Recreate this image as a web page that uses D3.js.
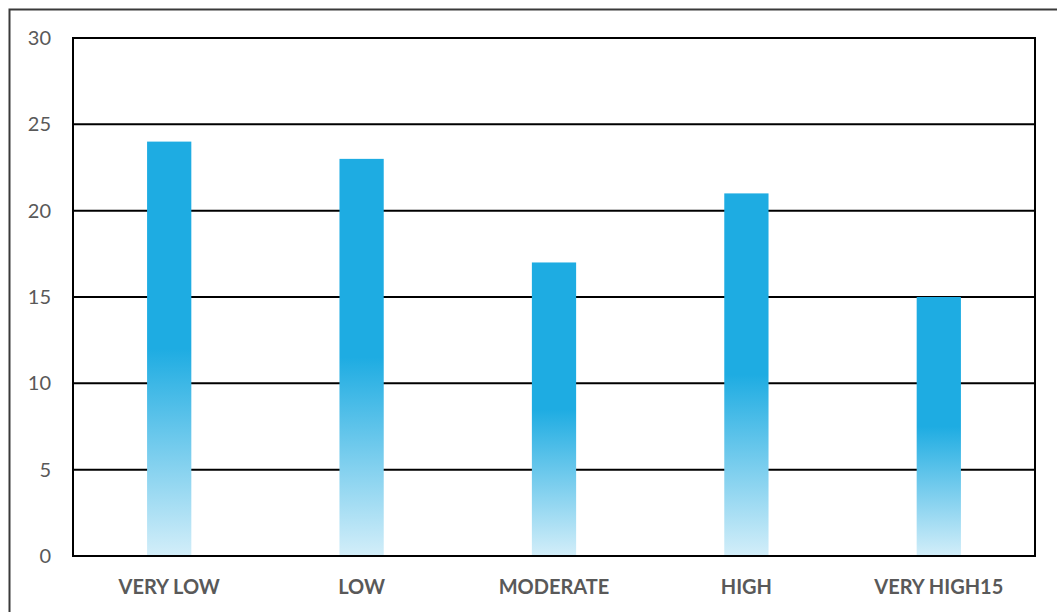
<!DOCTYPE html>
<html>
<head>
<meta charset="utf-8">
<script src="https://cdn.jsdelivr.net/npm/d3@7"></script>
<style>
  html, body { margin: 0; padding: 0; background: #fff; }
  svg { display: block; }
  text { font-family: Lato, "Open Sans", sans-serif; fill: #595959; }
</style>
</head>
<body>
<svg id="chart" width="1057" height="612"></svg>
<script>
// Category labels along the x axis
const categories = ["VERY LOW", "LOW", "MODERATE", "HIGH", "VERY HIGH15"];
// Bar heights for each category
const values = [24, 23, 17, 21, 15];
// Y axis tick values
const yTicks = [0, 5, 10, 15, 20, 25, 30];

const svg = d3.select("#chart");
const W = 1057, H = 612;
const margin = { left: 73, top: 38, right: 22, bottom: 56 };
const plotW = W - margin.left - margin.right;
const plotH = H - margin.top - margin.bottom;

// Outer frame of the chart area
svg.append("rect")
  .attr("x", 9.5).attr("y", 9.5)
  .attr("width", W + 20).attr("height", H + 20)
  .attr("fill", "none").attr("stroke", "#3a3a3a").attr("stroke-width", 2);

const x = d3.scaleBand().domain(categories).range([0, plotW]).paddingInner(0.77).paddingOuter(0.385);
const y = d3.scaleLinear().domain([0, 30]).range([plotH, 0]);

// Vertical gradient: solid blue on the upper half, fading out toward the base
const defs = svg.append("defs");
const grad = defs.append("linearGradient")
  .attr("id", "barFill")
  .attr("x1", 0).attr("y1", 0).attr("x2", 0).attr("y2", 1);
grad.append("stop").attr("offset", "0%").attr("stop-color", "#1eace2");
grad.append("stop").attr("offset", "50%").attr("stop-color", "#1eace2");
grad.append("stop").attr("offset", "100%").attr("stop-color", "#d3eef9");

const g = svg.append("g").attr("transform", `translate(${margin.left},${margin.top})`);

// Horizontal gridlines
g.append("g")
  .selectAll("line")
  .data(yTicks)
  .join("line")
  .attr("x1", 0).attr("x2", plotW)
  .attr("y1", d => y(d)).attr("y2", d => y(d))
  .attr("stroke", "#000").attr("stroke-width", 2);

// Bars
g.append("g")
  .selectAll("rect")
  .data(values)
  .join("rect")
  .attr("x", (d, i) => x(categories[i]))
  .attr("y", d => y(d))
  .attr("width", x.bandwidth())
  .attr("height", d => y(0) - y(d))
  .attr("fill", "url(#barFill)");

// Plot border
g.append("rect")
  .attr("x", 0).attr("y", 0)
  .attr("width", plotW).attr("height", plotH)
  .attr("fill", "none").attr("stroke", "#000").attr("stroke-width", 2);

// Y axis labels
const yAxis = d3.axisLeft(y).tickValues(yTicks).tickSize(0).tickPadding(22);
const ya = g.append("g").call(yAxis);
ya.select(".domain").remove();
ya.selectAll("text")
  .style("font-family", "Lato, 'Open Sans', sans-serif")
  .attr("font-size", 20).attr("fill", "#595959");

// X axis labels
const xAxis = d3.axisBottom(x).tickSize(0).tickPadding(24);
const xa = g.append("g").attr("transform", `translate(0,${plotH})`).call(xAxis);
xa.select(".domain").remove();
xa.selectAll("text")
  .style("font-family", "Lato, 'Open Sans', sans-serif")
  .attr("font-size", 20).attr("font-weight", "bold").attr("fill", "#595959");
</script>
</body>
</html>
